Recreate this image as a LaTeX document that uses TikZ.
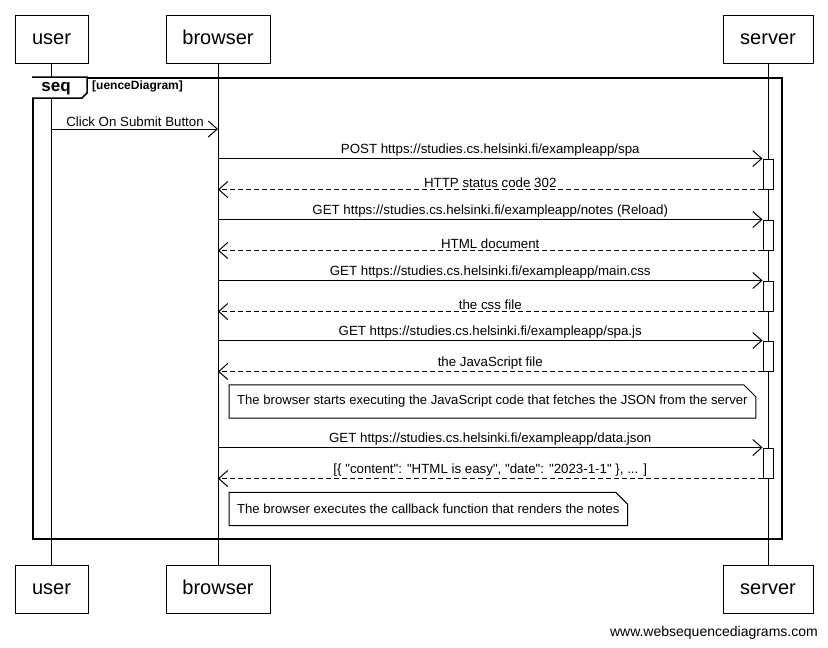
\documentclass[tikz,border=0pt]{standalone}
\usepackage{fontspec}
\setmainfont{Liberation Sans}[Ligatures=TeXOff]
\usetikzlibrary{arrows.meta,calc}
\tikzstyle{actor}=[draw,line width=1pt,minimum height=48pt,inner sep=0pt,
    text height=14pt,text depth=4pt,font=\fontsize{20}{24}\selectfont]
\tikzstyle{lifeline}=[line width=1pt]
\tikzstyle{act}=[draw,fill=white,line width=1pt,minimum width=10pt,minimum height=30pt,inner sep=0pt]
\tikzstyle{msg}=[line width=1pt,-{Straight Barb[length=9pt,width=16pt]}]
\tikzstyle{ret}=[msg,dash pattern=on 5pt off 3pt]
\tikzstyle{lbl}=[above,inner sep=1.5pt,font=\fontsize{13.3}{15}\selectfont]
\tikzstyle{note}=[anchor=west,inner xsep=8pt,minimum height=33pt,inner ysep=0pt,
    font=\fontsize{13.1}{15}\selectfont]
% folded note outline around a named node
\newcommand{\dogear}[1]{%
    \draw[line width=1pt] (#1.north west) -- ($(#1.north east)+(-12,0)$)
        -- ($(#1.north east)+(0,12)$) -- (#1.south east) -- (#1.south west) -- cycle;}

\begin{document}
\begin{tikzpicture}[x=1pt,y=-1pt]
    \useasboundingbox (0,0) rectangle (828,648);

    % participants
    \node[actor,minimum width=73pt]  (user)    at (51.5,39) {user};
    \node[actor,minimum width=104pt] (browser) at (218,39)  {browser};
    \node[actor,minimum width=90pt]  (server)  at (768,39)  {server};
    \node[actor,minimum width=73pt]  (userB)    at (51.5,589) {user};
    \node[actor,minimum width=104pt] (browserB) at (218,589)  {browser};
    \node[actor,minimum width=90pt]  (serverB)  at (768,589)  {server};

    \draw[lifeline] (user)    -- (userB);
    \draw[lifeline] (browser) -- (browserB);
    \draw[lifeline] (server)  -- (serverB);

    % frame
    \node[draw,line width=2pt,minimum width=749pt,minimum height=461pt,inner sep=0pt]
        (frame) at (407.5,308.5) {};
    \draw[line width=1.5pt,fill=white] (frame.north west) -- ++(55,0) -- ++(0,16)
        -- ++(-5,5) -- ($(frame.north west)+(0,21)$);
    \node[font=\bfseries\fontsize{17}{20}\selectfont,inner sep=0pt] (seqlbl) at (56,89) {seq};
    \node[font=\bfseries\fontsize{12}{14}\selectfont,anchor=west,inner sep=0pt]
        (seqname) at (92,86) {[uenceDiagram]};

    % activations on the server
    \node[act] (a1) at (768,174) {};
    \node[act] (a2) at (768,235) {};
    \node[act] (a3) at (768,296) {};
    \node[act] (a4) at (768,356) {};
    \node[act] (a5) at (768,463) {};

    \coordinate (u0) at (52,129);
    \draw[msg] (u0) -- node[lbl] {Click On Submit Button} (browser |- u0);

    \draw[msg] (browser |- a1.north) -- node[lbl] {POST https://studies.cs.helsinki.fi/exampleapp/spa} (a1.north west);
    \draw[ret] (a1.south west) -- node[lbl] {HTTP status code 302} (browser |- a1.south);

    \draw[msg] (browser |- a2.north) -- node[lbl] {GET https://studies.cs.helsinki.fi/exampleapp/notes (Reload)} (a2.north west);
    \draw[ret] (a2.south west) -- node[lbl] {HTML document} (browser |- a2.south);

    \draw[msg] (browser |- a3.north) -- node[lbl] {GET https://studies.cs.helsinki.fi/exampleapp/main.css} (a3.north west);
    \draw[ret] (a3.south west) -- node[lbl] {the css file} (browser |- a3.south);

    \draw[msg] (browser |- a4.north) -- node[lbl] {GET https://studies.cs.helsinki.fi/exampleapp/spa.js} (a4.north west);
    \draw[ret] (a4.south west) -- node[lbl] {the JavaScript file} (browser |- a4.south);

    \node[note] (n1) at (229,401.5) {The browser starts executing the JavaScript code that fetches the JSON from the server};
    \dogear{n1}

    \draw[msg] (browser |- a5.north) -- node[lbl] {GET https://studies.cs.helsinki.fi/exampleapp/data.json} (a5.north west);
    \draw[ret] (a5.south west) -- node[lbl] {[\{ "content": "HTML is easy", "date": "2023-1-1" \}, ... ]} (browser |- a5.south);

    \node[note] (n2) at (229,509) {The browser executes the callback function that renders the notes};
    \dogear{n2}

    \node[anchor=east,inner sep=0pt,font=\fontsize{14}{16}\selectfont] (credit) at (818,633)
        {www.websequencediagrams.com};
\end{tikzpicture}
\end{document}
